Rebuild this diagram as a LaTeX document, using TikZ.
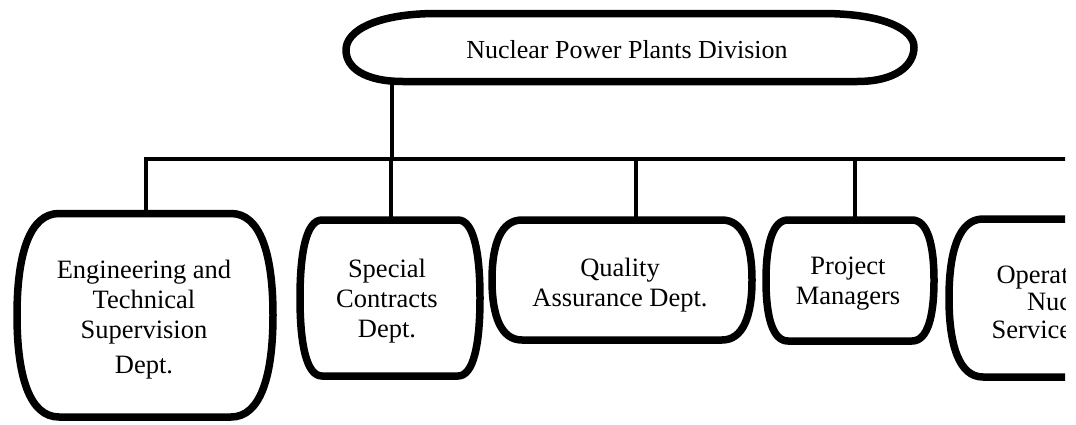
\documentclass[tikz,border=0pt]{standalone}
\usepackage{fontspec}
\setmainfont{Liberation Serif}
\usetikzlibrary{calc}
\tikzset{
  boxline/.style={line width=7.5pt, line join=round},
  conn/.style={line width=4.5pt, line join=miter},
  frame/.style={rectangle, inner sep=0pt, outer sep=0pt},
  lbl/.style={align=center, inner sep=0pt, font=\fontsize{26.5}{30}\selectfont},
}
\newcommand\blob[2]{%
 \draw[boxline] ($(#1.north west)+(#2,0)$) -- ($(#1.north east)+(-#2,0)$)
   .. controls ($(#1.north east)+(-0.3*#2,0)$) and ($(#1.north east)!0.4!(#1.east)$) .. (#1.east)
   .. controls ($(#1.south east)!0.4!(#1.east)$) and ($(#1.south east)+(-0.3*#2,0)$) .. ($(#1.south east)+(-#2,0)$)
   -- ($(#1.south west)+(#2,0)$)
   .. controls ($(#1.south west)+(0.3*#2,0)$) and ($(#1.south west)!0.4!(#1.west)$) .. (#1.west)
   .. controls ($(#1.north west)!0.4!(#1.west)$) and ($(#1.north west)+(0.3*#2,0)$) .. cycle;}
\begin{document}
\begin{tikzpicture}[x=1pt,y=-1pt]
\useasboundingbox (0,0) rectangle (1076,424);
\clip (0,0) rectangle (1065,424);
% title
\node[frame, minimum width=568pt, minimum height=68pt] (title) at (630,47.5) {};
\draw[boxline] (437,13.5) -- (822,13.5)
  .. controls (885,13.5) and (914,30) .. (914,47)
  .. controls (914,66) and (895,81.5) .. (857,81.5)
  -- (403,81.5)
  .. controls (365,81.5) and (346,68) .. (346,50)
  .. controls (346,30) and (378,13.5) .. (437,13.5) -- cycle;
\node[lbl, anchor=base, font=\fontsize{26}{30}\selectfont] (titletxt) at (627,58) {Nuclear Power Plants Division};
% boxes
\node[frame, minimum width=256pt, minimum height=203.5pt] (eng) at (145,315.25) {};
\node[frame, minimum width=180pt, minimum height=156pt] (spc) at (390,298) {};
\node[frame, minimum width=260pt, minimum height=120pt] (qa) at (622,280) {};
\node[frame, minimum width=168pt, minimum height=121pt] (pm) at (850,280.5) {};
\node[frame, minimum width=240pt, minimum height=158pt] (ops) at (1069,298) {};
\blob{eng}{42}
\blob{spc}{22}
\blob{qa}{30}
\blob{pm}{22}
\blob{ops}{34}
% texts (base = baseline of last line)
\node[lbl, anchor=base] (engtxt) at (144,373) {Engineering and\\Technical\\Supervision\\[5pt]Dept.};
\node[lbl, anchor=base] (spctxt) at (387,337) {Special\\Contracts\\Dept.};
\node[lbl, anchor=base] (qatxt) at (620,306) {Quality\\Assurance Dept.};
\node[lbl, anchor=base] (pmtxt) at (848,304) {Project\\Managers};
\node[lbl, anchor=base, font=\fontsize{26.5}{27.5}\selectfont] (opstxt) at (1069,338) {Operations of\\Nuclear\\Services Dept.};
% connectors
\coordinate (bL) at (146,159);
\coordinate (bR) at (1085,159);
\coordinate (d0) at (392,159);
\coordinate (d1) at (391,159);
\coordinate (d2) at (636,159);
\coordinate (d3) at (855,159);
\draw[conn] (d0 |- title.south) -- (d0);
\draw[conn] (bR) -- (bL) -- (bL |- eng.north);
\draw[conn] (d1) -- (d1 |- spc.north);
\draw[conn] (d2) -- (d2 |- qa.north);
\draw[conn] (d3) -- (d3 |- pm.north);
\end{tikzpicture}
\end{document}
